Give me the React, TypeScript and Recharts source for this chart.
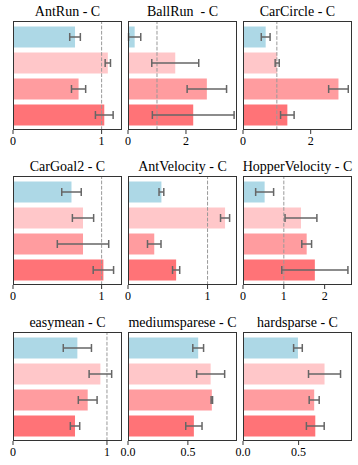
import React from 'react';
import { BarChart, Bar, XAxis, YAxis, Cell, ErrorBar, ReferenceLine } from 'recharts';

// four variants per task, top to bottom
const methods = ['variant 1', 'variant 2', 'variant 3', 'variant 4'];
const colors = ['#add8e6', '#ffc7c9', '#ff9c9f', '#ff7377'];

const titles = [
  'AntRun - C', 'BallRun  - C', 'CarCircle - C',
  'CarGoal2 - C', 'AntVelocity - C', 'HopperVelocity - C',
  'easymean - C', 'mediumsparese - C', 'hardsparse - C',
];

const antRunMean = [0.70, 1.07, 0.74, 1.03];
const antRunErr = [0.06, 0.03, 0.08, 0.10];
const ballRunMean = [0.23, 1.63, 2.72, 2.25];
const ballRunErr = [0.21, 0.81, 0.68, 1.41];
const carCircleMean = [0.67, 1.01, 2.82, 1.31];
const carCircleErr = [0.13, 0.06, 0.29, 0.20];
const carGoal2Mean = [0.66, 0.79, 0.79, 1.02];
const carGoal2Err = [0.11, 0.12, 0.29, 0.115];
const antVelocityMean = [0.42, 1.22, 0.33, 0.605];
const antVelocityErr = [0.03, 0.057, 0.085, 0.045];
const hopperVelocityMean = [0.53, 1.42, 1.56, 1.76];
const hopperVelocityErr = [0.22, 0.39, 0.12, 0.81];
const easyMean = [0.685, 0.93, 0.795, 0.66];
const easyErr = [0.15, 0.12, 0.10, 0.05];
const mediumSparseMean = [0.586, 0.69, 0.70, 0.55];
const mediumSparseErr = [0.045, 0.117, 0.006, 0.068];
const hardSparseMean = [0.494, 0.733, 0.64, 0.65];
const hardSparseErr = [0.039, 0.144, 0.045, 0.08];

const means = [antRunMean, ballRunMean, carCircleMean, carGoal2Mean, antVelocityMean, hopperVelocityMean, easyMean, mediumSparseMean, hardSparseMean];
const errs = [antRunErr, ballRunErr, carCircleErr, carGoal2Err, antVelocityErr, hopperVelocityErr, easyErr, mediumSparseErr, hardSparseErr];

const xMax = [1.23, 3.76, 3.22, 1.23, 1.37, 2.67, 1.16, 0.91, 0.98];
const xTicks = [[0, 1], [0, 2], [0, 2], [0, 1], [0, 1], [0, 1, 2], [0, 1], [0, 0.5], [0, 0.5]];

const colLeft = [13, 128, 243];
const rowTop = [21, 176, 332];
const W = 109;
const H = 109;
const FONT = '"Liberation Serif", "Times New Roman", serif';

function Panel({ idx }: { idx: number }) {
  const L = colLeft[idx % 3];
  const T = rowTop[Math.floor(idx / 3)];
  const data = methods.map((m, i) => ({ name: m, value: means[idx][i], err: errs[idx][i] }));
  const ticks = xTicks[idx];
  const fmt = (v: number) => (ticks.some((t) => t % 1 !== 0) ? v.toFixed(1) : String(v));
  return (
    <>
      <div
        style={{
          position: 'absolute', left: L - 20, top: T - 17.2, width: W + 40,
          fontSize: 14, lineHeight: '16px', textAlign: 'center', whiteSpace: 'pre',
          fontFamily: FONT, color: '#000',
        }}
      >
        {titles[idx]}
      </div>
      <div style={{ position: 'absolute', left: L - 10, top: T - 5 }}>
        <BarChart
          width={W + 20}
          height={H + 5 + 24}
          data={data}
          layout="vertical"
          margin={{ top: 5, right: 10, bottom: 0, left: 10 }}
        >
          <XAxis
            type="number"
            domain={[0, xMax[idx]]}
            ticks={ticks}
            interval={0}
            allowDataOverflow
            axisLine={false}
            tickSize={4}
            tickMargin={2}
            height={24}
            tickLine={{ stroke: '#333' }}
            tick={{ fill: '#000', fontSize: 12, fontFamily: FONT }}
            tickFormatter={fmt}
          />
          <YAxis type="category" dataKey="name" hide padding={{ top: 2.5, bottom: 2.5 }} />
          <ReferenceLine x={1} stroke="#999" strokeDasharray="3.7 1.6" />
          <Bar dataKey="value" barSize={21} isAnimationActive={false}>
            {data.map((d, i) => (
              <Cell key={d.name} fill={colors[i]} />
            ))}
            <ErrorBar dataKey="err" direction="x" width={4} stroke="#666" strokeWidth={1.5} />
          </Bar>
        </BarChart>
      </div>
      <div
        style={{
          position: 'absolute', left: L, top: T, width: W, height: H,
          border: '1px solid #333', boxSizing: 'border-box', pointerEvents: 'none',
        }}
      />
    </>
  );
}

export default function App() {
  return (
    <div style={{ position: 'absolute', left: 0, top: 0, width: 358, height: 465, background: '#fff' }}>
      {titles.map((t, i) => (
        <Panel key={t} idx={i} />
      ))}
    </div>
  );
}
